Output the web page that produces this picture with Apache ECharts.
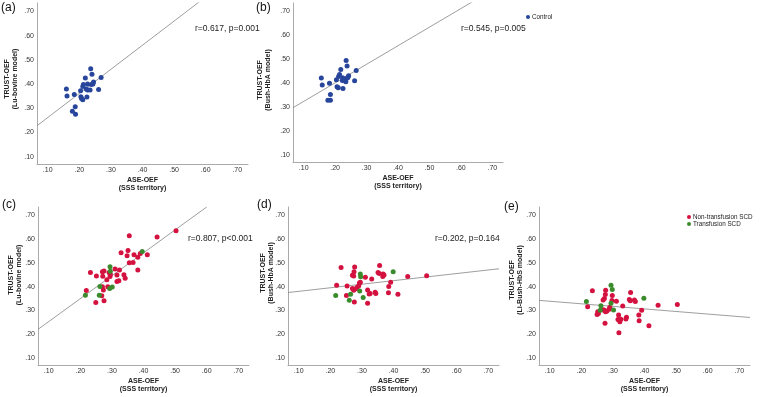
<!DOCTYPE html>
<html>
<head>
<meta charset="utf-8">
<script src="https://cdn.jsdelivr.net/npm/echarts@6/dist/echarts.min.js"></script>
<style>
html, body { margin: 0; padding: 0; background: #fff; }
#chart { width: 760px; height: 397px; }
</style>
</head>
<body>
<div id="chart"></div>
<script>
// ASE-OEF (x) vs TRUST-OEF (y) pairs
var controlLuBovine = [[0.159,0.380],[0.161,0.351],[0.184,0.357],[0.178,0.288],[0.187,0.306],[0.188,0.276],[0.204,0.373],[0.205,0.348],[0.211,0.390],[0.213,0.398],[0.207,0.341],[0.211,0.335],[0.219,0.425],[0.226,0.400],[0.226,0.376],[0.224,0.347],[0.222,0.380],[0.234,0.376],[0.236,0.463],[0.240,0.441],[0.238,0.398],[0.245,0.409],[0.243,0.400],[0.261,0.378],[0.269,0.427]];
var controlBushHbA = [[0.156,0.421],[0.159,0.392],[0.182,0.399],[0.177,0.328],[0.185,0.328],[0.185,0.352],[0.204,0.414],[0.206,0.385],[0.210,0.381],[0.211,0.428],[0.214,0.436],[0.218,0.457],[0.223,0.411],[0.224,0.422],[0.225,0.377],[0.231,0.411],[0.235,0.494],[0.234,0.406],[0.238,0.472],[0.239,0.421],[0.243,0.431],[0.241,0.425],[0.262,0.410],[0.267,0.453]];

var nonTransLuBovine = [[0.355,0.614],[0.443,0.609],[0.503,0.635],[0.351,0.552],[0.329,0.542],[0.348,0.530],[0.370,0.534],[0.390,0.539],[0.412,0.534],[0.382,0.523],[0.367,0.501],[0.355,0.500],[0.382,0.470],[0.310,0.474],[0.324,0.470],[0.338,0.450],[0.342,0.435],[0.232,0.459],[0.251,0.445],[0.270,0.463],[0.275,0.466],[0.271,0.444],[0.291,0.459],[0.295,0.452],[0.294,0.442],[0.284,0.429],[0.316,0.421],[0.322,0.425],[0.287,0.399],[0.270,0.399],[0.273,0.386],[0.268,0.361],[0.219,0.384],[0.249,0.333],[0.275,0.340],[0.316,0.449]];
var transLuBovine = [[0.396,0.548],[0.294,0.484],[0.295,0.465],[0.262,0.400],[0.293,0.392],[0.301,0.398],[0.216,0.364],[0.260,0.364]];

var nonTransBushHbA = [[0.234,0.480],[0.277,0.482],[0.275,0.463],[0.270,0.448],[0.274,0.445],[0.356,0.489],[0.351,0.459],[0.355,0.455],[0.367,0.453],[0.370,0.449],[0.366,0.442],[0.331,0.432],[0.311,0.439],[0.295,0.418],[0.292,0.415],[0.290,0.404],[0.285,0.397],[0.391,0.418],[0.385,0.400],[0.220,0.406],[0.253,0.402],[0.270,0.392],[0.274,0.385],[0.281,0.391],[0.318,0.386],[0.323,0.369],[0.342,0.376],[0.344,0.371],[0.384,0.374],[0.414,0.368],[0.251,0.362],[0.276,0.335],[0.318,0.330],[0.445,0.443],[0.505,0.446],[0.326,0.371]];
var transBushHbA = [[0.217,0.363],[0.264,0.368],[0.260,0.343],[0.295,0.453],[0.296,0.441],[0.293,0.381],[0.304,0.354],[0.399,0.462]];

var nonTransLiBushHbS = [[0.235,0.382],[0.220,0.315],[0.277,0.385],[0.276,0.367],[0.273,0.350],[0.269,0.344],[0.298,0.362],[0.297,0.341],[0.311,0.338],[0.356,0.375],[0.352,0.346],[0.355,0.340],[0.368,0.344],[0.371,0.337],[0.443,0.322],[0.504,0.325],[0.331,0.318],[0.391,0.300],[0.382,0.280],[0.383,0.256],[0.414,0.235],[0.318,0.280],[0.316,0.261],[0.322,0.252],[0.325,0.263],[0.343,0.271],[0.341,0.264],[0.319,0.206],[0.275,0.246],[0.252,0.294],[0.254,0.287],[0.250,0.283],[0.270,0.303],[0.273,0.299],[0.277,0.294],[0.288,0.305],[0.290,0.313],[0.281,0.297]];
var transLiBushHbS = [[0.216,0.337],[0.262,0.319],[0.260,0.300],[0.294,0.406],[0.298,0.388],[0.294,0.330],[0.302,0.301],[0.398,0.351]];

// fit line end points (data units), clipped by the axes
var fitA = [[0.066,0.228],[0.585,0.745]];
var fitB = [[0.066,0.297],[0.643,0.745]];
var fitC = [[0.066,0.220],[0.600,0.735]];
var fitD = [[0.066,0.375],[0.734,0.475]];
var fitE = [[0.066,0.342],[0.734,0.270]];

var panelLabels = ['(a)', '(b)', '(c)', '(d)', '(e)'];
var statLabels = ['r=0.617, p=0.001', 'r=0.545, p=0.005', 'r=0.807, p<0.001', 'r=0.202, p=0.164', ''];
var yTitles = ['TRUST-OEF\n(Lu-bovine model)', 'TRUST-OEF\n(Bush-HbA model)', 'TRUST-OEF\n(Lu-bovine model)', 'TRUST-OEF\n(Bush-HbA model)', 'TRUST-OEF\n(Li-Bush-HbS model)'];
var xTitle = 'ASE-OEF\n(SSS territory)';
var xRange = [0.066, 0.734];
var yRange = [0.07, 0.735];

var FONT = 'Liberation Sans';
var BLUE = '#27459b', RED = '#d4123f', GREEN = '#3b8b2d', LINE = '#858585';

// layout of the five panels
var panels = [
    { left: 37, top: 3, width: 211, height: 161, lab: [1, 8], stat: [195, 29], yt: [11, 79] },
    { left: 293, top: 3, width: 210, height: 159, lab: [256, 8], stat: [461, 29], yt: [264, 80] },
    { left: 38, top: 207, width: 211, height: 158, lab: [2, 205], stat: [188, 239], yt: [15, 275] },
    { left: 288, top: 207, width: 211, height: 158, lab: [257, 205], stat: [435, 239], yt: [267, 273] },
    { left: 539, top: 207, width: 211, height: 158, lab: [504, 207], stat: [0, 0], yt: [516, 280] }
];

function fmt(v) { return v.toFixed(2).replace(/^0/, ''); }

var grids = [], xAxes = [], yAxes = [], graphics = [];
panels.forEach(function (p, i) {
    grids.push({ left: p.left, top: p.top, width: p.width, height: p.height });
    xAxes.push({
        type: 'value', gridIndex: i, min: xRange[0], max: xRange[1],
        splitNumber: 6, minInterval: 0.1, maxInterval: 0.1,
        name: xTitle, nameLocation: 'middle', nameGap: 12,
        nameTextStyle: { fontFamily: FONT, fontSize: 7, fontWeight: 'bold', color: '#222', lineHeight: 8 },
        axisLine: { lineStyle: { color: '#aaa', width: 1 } },
        axisTick: { show: false },
        splitLine: { show: false },
        axisLabel: { fontFamily: FONT, fontSize: 7, color: '#333', margin: 3, formatter: fmt, showMinLabel: false, showMaxLabel: false }
    });
    yAxes.push({
        type: 'value', gridIndex: i, min: yRange[0], max: yRange[1],
        splitNumber: 6, minInterval: 0.1, maxInterval: 0.1,
        axisLine: { show: true, lineStyle: { color: '#aaa', width: 1 } },
        axisTick: { show: false },
        splitLine: { show: false },
        axisLabel: { fontFamily: FONT, fontSize: 7, color: '#333', margin: 3, formatter: fmt, showMinLabel: false, showMaxLabel: false }
    });
    graphics.push({
        type: 'text', x: p.lab[0], y: p.lab[1],
        style: { text: panelLabels[i], fontFamily: FONT, fontSize: 12, fill: '#111', verticalAlign: 'middle' }
    });
    graphics.push({
        type: 'text', x: p.yt[0], y: p.yt[1], rotation: Math.PI / 2,
        style: { text: yTitles[i], fontFamily: FONT, fontSize: 7, fontWeight: 'bold', fill: '#222', lineHeight: 7.5, align: 'center', verticalAlign: 'middle' }
    });
    if (statLabels[i]) {
        graphics.push({
            type: 'text', x: p.stat[0], y: p.stat[1],
            style: { text: statLabels[i], fontFamily: FONT, fontSize: 8.5, fill: '#222', verticalAlign: 'middle' }
        });
    }
});

function dots(name, data, color, i) {
    return { name: name, type: 'scatter', xAxisIndex: i, yAxisIndex: i, data: data, symbolSize: 5, z: 3, itemStyle: { color: color, opacity: 1 } };
}
function fit(data, i) {
    return { type: 'line', xAxisIndex: i, yAxisIndex: i, data: data, symbol: 'none', silent: true, z: 2, clip: true, lineStyle: { color: LINE, width: 0.8 } };
}

var legendText = { fontFamily: FONT, fontSize: 6.3, color: '#222', padding: [0, 0, 0, -3] };

var chart = echarts.init(document.getElementById('chart'));
chart.setOption({
    animation: false,
    backgroundColor: '#fff',
    grid: grids,
    xAxis: xAxes,
    yAxis: yAxes,
    graphic: graphics,
    legend: [{
        data: ['Control'], left: 526, top: 14, padding: 0,
        icon: 'circle', itemWidth: 4, itemHeight: 4,
        textStyle: legendText
    }, {
        data: ['Non-transfusion SCD', 'Transfusion SCD'], orient: 'vertical', left: 687, top: 214, padding: 0, itemGap: 1,
        icon: 'circle', itemWidth: 4, itemHeight: 4,
        textStyle: legendText
    }],
    series: [
        fit(fitA, 0), dots('Control', controlLuBovine, BLUE, 0),
        fit(fitB, 1), dots('Control', controlBushHbA, BLUE, 1),
        fit(fitC, 2), dots('Non-transfusion SCD', nonTransLuBovine, RED, 2), dots('Transfusion SCD', transLuBovine, GREEN, 2),
        fit(fitD, 3), dots('Non-transfusion SCD', nonTransBushHbA, RED, 3), dots('Transfusion SCD', transBushHbA, GREEN, 3),
        fit(fitE, 4), dots('Non-transfusion SCD', nonTransLiBushHbS, RED, 4), dots('Transfusion SCD', transLiBushHbS, GREEN, 4)
    ]
});
</script>
</body>
</html>
